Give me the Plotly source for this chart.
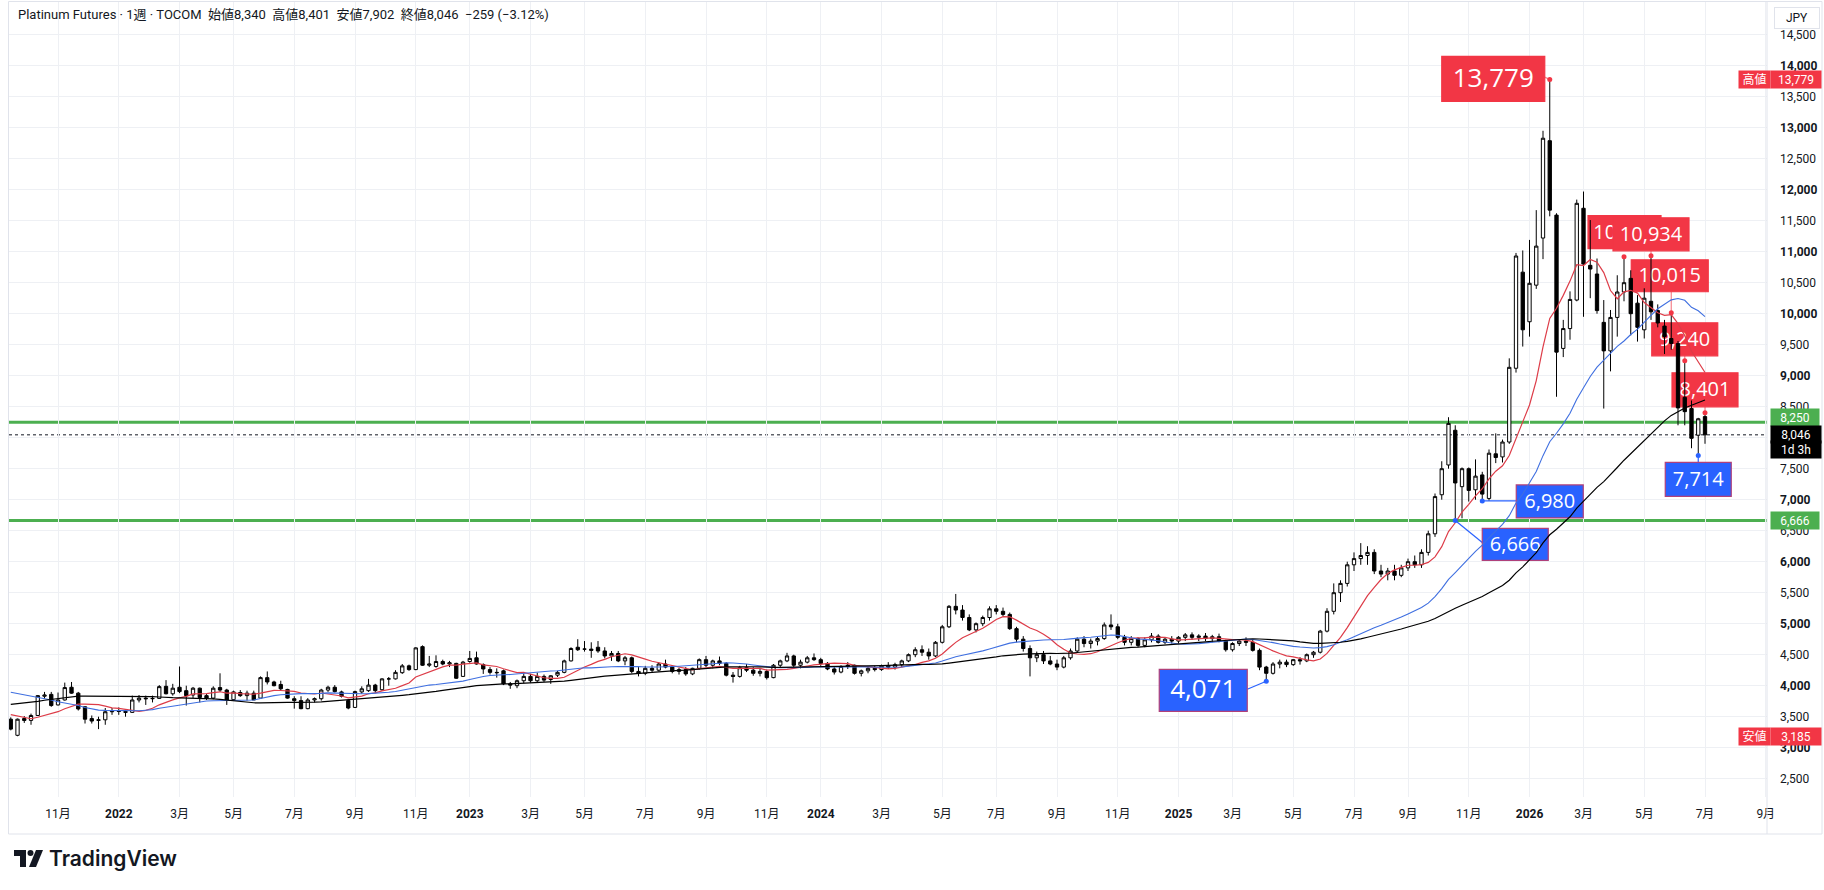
import pandas as pd
import plotly.graph_objects as go

# ---------------- data ----------------
FIRST_WEEK = "2021-09-13"

opens = [
    3460, 3200, 3470, 3440, 3520, 3830, 3860, 3690, 3770, 3975,
    3880, 3660, 3470, 3440, 3450, 3580, 3590, 3585, 3570, 3770,
    3800, 3790, 3795, 3990, 3870, 3975, 3920, 3850, 3960, 3840,
    3800, 3970, 3930, 3775, 3890, 3840, 3880, 3800, 4130, 4060,
    4020, 3940, 3790, 3760, 3630, 3770, 3790, 3930, 3975, 3900,
    3760, 3650, 3900, 3920, 4010, 3935, 4110, 4110, 4210, 4320,
    4260, 4630, 4330, 4310, 4390, 4350, 4360, 4150, 4390, 4450,
    4340, 4260, 4215, 4240, 4030, 4000, 4080, 4150, 4080, 4150,
    4100, 4170, 4215, 4400, 4620, 4590, 4590, 4620, 4560, 4480,
    4520, 4400, 4450, 4230, 4200, 4280, 4250, 4350, 4300, 4230,
    4260, 4190, 4280, 4420, 4330, 4400, 4360, 4170, 4150, 4290,
    4250, 4200, 4230, 4130, 4330, 4400, 4480, 4330, 4380, 4450,
    4420, 4360, 4270, 4220, 4310, 4330, 4200, 4240, 4280, 4260,
    4320, 4300, 4340, 4400, 4500, 4580, 4540, 4480, 4700, 4950,
    5280, 5220, 5100, 4900, 5000, 5100, 5240, 5200, 5150, 4920,
    4750, 4600, 4450, 4500, 4400, 4350, 4300, 4450, 4560, 4750,
    4680, 4720, 4760, 4980, 4950, 4780, 4700, 4760, 4650, 4740,
    4800, 4700, 4750, 4720, 4780, 4820, 4780, 4800, 4760, 4790,
    4720, 4580, 4680, 4720, 4700, 4570, 4300, 4200, 4350, 4380,
    4340, 4420, 4400, 4500, 4540, 4880, 5200, 5500, 5650, 5950,
    6050, 6100, 6150, 5850, 5800, 5850, 5780, 5900, 6000, 5950,
    6150, 6450, 7080, 7560, 8120, 7210, 7500, 7160, 7400, 7020,
    7740, 7690, 7930, 9120, 10670, 9870, 10460, 11220, 12790, 11590,
    9440, 9760, 10220, 11700, 10780, 10640, 9860, 9400, 9940, 10350,
    10570, 10170, 9740, 10200, 10050, 9800, 9600, 9520, 8650, 8470,
    8040, 8340,
]
highs = [
    3490, 3470, 3510, 3550, 3850, 3900, 3900, 3890, 4050, 4060,
    3900, 3670, 3520, 3500, 3640, 3640, 3650, 3620, 3840, 3850,
    3840, 3840, 4010, 4090, 4030, 4310, 4000, 3980, 3970, 3870,
    3990, 4200, 3950, 3920, 3930, 3920, 3920, 4150, 4230, 4080,
    4080, 3950, 3830, 3830, 3800, 3810, 3950, 4000, 4010, 3920,
    3780, 3920, 3990, 4110, 4030, 4120, 4140, 4250, 4350, 4340,
    4620, 4650, 4480, 4490, 4420, 4400, 4370, 4400, 4560, 4550,
    4360, 4300, 4280, 4260, 4060, 4100, 4200, 4190, 4210, 4180,
    4170, 4240, 4420, 4620, 4750, 4720, 4700, 4720, 4620, 4560,
    4560, 4480, 4470, 4300, 4320, 4330, 4380, 4420, 4320, 4290,
    4300, 4290, 4440, 4480, 4420, 4470, 4380, 4220, 4320, 4350,
    4300, 4280, 4260, 4350, 4420, 4530, 4500, 4420, 4480, 4520,
    4450, 4380, 4300, 4330, 4380, 4340, 4260, 4310, 4320, 4340,
    4380, 4370, 4420, 4520, 4620, 4650, 4600, 4720, 4980, 5300,
    5480, 5300, 5150, 5020, 5130, 5280, 5300, 5260, 5180, 4950,
    4800, 4650, 4550, 4560, 4480, 4420, 4480, 4600, 4780, 4800,
    4760, 4800, 5020, 5150, 5000, 4820, 4800, 4780, 4780, 4850,
    4830, 4780, 4800, 4800, 4850, 4860, 4830, 4850, 4820, 4840,
    4740, 4700, 4750, 4780, 4750, 4600, 4320, 4380, 4420, 4420,
    4430, 4460, 4520, 4560, 4900, 5250, 5650, 5700, 6000, 6150,
    6300, 6250, 6200, 5950, 5900, 5950, 5950, 6050, 6100, 6200,
    6500, 7100, 7620, 8330, 8200, 7520, 7520, 7650, 7450, 7810,
    8070, 7970, 9280, 10980, 11020, 11190, 11670, 12950, 13779, 11620,
    9900, 10360, 11840, 11970, 11510, 10890, 10220, 10060, 10620, 10920,
    10700, 10300, 10410, 10934, 10150, 9900, 10015, 9560, 9240, 8600,
    8320, 8401,
]
lows = [
    3280, 3185, 3400, 3370, 3510, 3790, 3660, 3680, 3760, 3870,
    3600, 3390, 3390, 3300, 3370, 3530, 3530, 3500, 3560, 3730,
    3690, 3730, 3790, 3860, 3840, 3880, 3680, 3800, 3730, 3770,
    3780, 3900, 3690, 3760, 3820, 3760, 3770, 3790, 4020, 3990,
    3930, 3790, 3630, 3620, 3620, 3730, 3760, 3900, 3890, 3810,
    3620, 3640, 3870, 3900, 3880, 3920, 4000, 4100, 4190, 4240,
    4250, 4320, 4300, 4290, 4330, 4300, 4110, 4140, 4370, 4340,
    4190, 4180, 4130, 4010, 3950, 3960, 4040, 4050, 4060, 4060,
    4030, 4140, 4200, 4390, 4560, 4550, 4450, 4530, 4440, 4400,
    4380, 4330, 4200, 4150, 4170, 4220, 4230, 4280, 4200, 4180,
    4160, 4170, 4260, 4300, 4280, 4330, 4150, 4050, 4130, 4220,
    4160, 4150, 4100, 4120, 4300, 4380, 4300, 4280, 4360, 4400,
    4320, 4250, 4180, 4200, 4270, 4180, 4150, 4200, 4230, 4240,
    4270, 4260, 4300, 4380, 4460, 4480, 4420, 4460, 4680, 4930,
    5150, 5050, 4880, 4860, 4960, 5050, 5150, 5120, 4900, 4700,
    4550, 4150, 4380, 4350, 4330, 4250, 4280, 4420, 4540, 4620,
    4600, 4650, 4740, 4900, 4750, 4650, 4650, 4620, 4620, 4700,
    4680, 4670, 4680, 4680, 4720, 4740, 4720, 4720, 4700, 4700,
    4550, 4550, 4640, 4640, 4550, 4250, 4071, 4180, 4280, 4300,
    4320, 4340, 4380, 4450, 4520, 4860, 5150, 5350, 5600, 5850,
    5950, 5950, 5800, 5750, 5700, 5700, 5750, 5850, 5900, 5900,
    6100, 6400, 7000, 7500, 6666, 6700, 6970, 7000, 6980, 6990,
    7590, 7600, 7900, 9050, 9470, 9630, 10400, 10880, 11570, 8660,
    9300, 9580, 10200, 9950, 10250, 10000, 8470, 9070, 9630, 10200,
    9650, 9550, 9600, 9900, 9780, 9350, 9420, 8200, 8200, 7830,
    7714, 7902,
]
closes = [
    3300, 3460, 3440, 3520, 3840, 3850, 3680, 3770, 3970, 3880,
    3625, 3460, 3430, 3450, 3580, 3590, 3585, 3570, 3770, 3800,
    3790, 3795, 3985, 3870, 3960, 3905, 3840, 3960, 3810, 3800,
    3960, 3930, 3770, 3900, 3840, 3880, 3770, 4130, 4060, 4000,
    3950, 3800, 3760, 3630, 3770, 3790, 3930, 3975, 3905, 3830,
    3640, 3905, 3950, 4010, 3920, 4110, 4110, 4215, 4320, 4260,
    4610, 4330, 4350, 4390, 4350, 4370, 4120, 4380, 4440, 4350,
    4270, 4215, 4210, 4030, 4010, 4080, 4150, 4080, 4150, 4090,
    4160, 4215, 4400, 4600, 4580, 4590, 4570, 4560, 4480, 4520,
    4400, 4450, 4230, 4200, 4280, 4250, 4350, 4300, 4230, 4260,
    4190, 4280, 4420, 4330, 4400, 4360, 4170, 4150, 4290, 4250,
    4200, 4230, 4130, 4330, 4400, 4480, 4330, 4380, 4450, 4420,
    4360, 4270, 4220, 4310, 4330, 4200, 4240, 4280, 4260, 4320,
    4300, 4340, 4400, 4500, 4580, 4540, 4480, 4700, 4950, 5280,
    5220, 5100, 4900, 5000, 5100, 5240, 5200, 5150, 4920, 4750,
    4600, 4450, 4500, 4400, 4350, 4300, 4450, 4560, 4750, 4680,
    4720, 4760, 4980, 4950, 4780, 4700, 4760, 4650, 4740, 4800,
    4700, 4750, 4720, 4780, 4820, 4780, 4800, 4760, 4790, 4720,
    4580, 4680, 4720, 4700, 4570, 4300, 4200, 4350, 4380, 4340,
    4420, 4400, 4500, 4540, 4880, 5200, 5500, 5650, 5950, 6050,
    6100, 6150, 5850, 5800, 5850, 5780, 5900, 6000, 5950, 6150,
    6450, 7050, 7500, 8230, 7270, 7500, 7150, 7380, 7090, 7750,
    7680, 7930, 9135, 10930, 9740, 10490, 11090, 12830, 11670, 9380,
    9760, 10230, 11780, 10800, 10720, 10050, 9400, 9940, 10350, 10500,
    10000, 9780, 10250, 10030, 9850, 9630, 9520, 8480, 8420, 7990,
    8305, 8046,
]
# weekly closes before the visible window (Sep 2020 - Sep 2021), used only to seed the averages
prehistory_closes = [
    2950, 2880, 2920, 2980, 2950, 2900, 2870, 3050, 3150, 3200,
    3250, 3350, 3450, 3500, 3450, 3500, 3650, 3800, 3700, 3720,
    3900, 4100, 4350, 4450, 4000, 4050, 3950, 3950, 4000, 4050,
    4200, 4350, 4450, 4550, 4400, 4300, 4350, 4250, 4100, 3900,
    3700, 3650, 3700, 3700, 3750, 3650, 3600, 3550, 3400, 3450,
    3500, 3450,
]
ma_periods = [10, 26, 52]
levels = [8250, 6666]
high_label_bars = [228, 239, 243, 246, 248, 251]
low_label_bars = [186, 218, 214, 250]
symbol = "Platinum Futures"
interval = "1週"
exchange = "TOCOM"
time_left = "1d 3h"
currency = "JPY"

# ---------------- geometry ----------------
W, H = 1824, 890
PL, PR, PT, PB = 9, 1767, 2, 797
XR = [pd.Timestamp("2021-09-11 04:00"), pd.Timestamp("2026-09-08 07:00")]
YR = [2205, 15027]
X_PER_PX = (XR[1] - XR[0]) / (PR - PL)
Y_PER_PX = (YR[1] - YR[0]) / (PB - PT)


def px2x(px):
    return (px - PL) / (PR - PL)


def py2y(py):
    return (PB - py) / (PB - PT)


RED = "#F23645"
BLUE = "#2962FF"
GREEN = "#4CAF50"
TXT = "#131722"
FONT = "Roboto, 'Noto Sans CJK JP', sans-serif"
LFONT = "'Open Sans', Roboto, sans-serif"

dates = pd.date_range(FIRST_WEEK, periods=len(closes), freq="7D")
allc = pd.Series(prehistory_closes + closes, dtype=float)
mas = [allc.rolling(p).mean().iloc[len(prehistory_closes):].to_numpy() for p in ma_periods]

fig = go.Figure()
fig.add_trace(go.Candlestick(
    x=dates, open=opens, high=highs, low=lows, close=closes,
    increasing=dict(line=dict(color="#000000", width=1), fillcolor="#ffffff"),
    decreasing=dict(line=dict(color="#000000", width=1), fillcolor="#000000"),
    whiskerwidth=0, showlegend=False, hoverinfo="skip",
))
for ma, col, wd in zip(mas, ["#DD3C48", "#3F6FE0", "#000000"], [1.2, 1.1, 1.2]):
    fig.add_trace(go.Scatter(x=dates, y=ma, mode="lines", line=dict(color=col, width=wd),
                             showlegend=False, hoverinfo="skip"))

fig.add_trace(go.Scatter(x=[dates[i] for i in high_label_bars], y=[highs[i] for i in high_label_bars],
                         mode="markers", marker=dict(color=RED, size=5), showlegend=False, hoverinfo="skip"))
fig.add_trace(go.Scatter(x=[dates[i] for i in low_label_bars], y=[lows[i] for i in low_label_bars],
                         mode="markers", marker=dict(color=BLUE, size=5), showlegend=False, hoverinfo="skip"))

shapes = []
annotations = []

# level lines and last price line
for lv in levels:
    shapes.append(dict(type="line", xref="paper", x0=0, x1=1, yref="y", y0=lv, y1=lv,
                       line=dict(color=GREEN, width=3), layer="between"))
shapes.append(dict(type="line", xref="paper", x0=0, x1=1, yref="y", y0=closes[-1], y1=closes[-1],
                   line=dict(color="#131722", width=1, dash="dot"), layer="between"))

# pivot labels: box offsets in px relative to the pivot point (dx0, dx1, dy0, dy1; y up), font size, connector end
label_geom = {
    228: (-108, -5, 23, -22, 26, (-7, 3)),
    239: (-36, 37, 41, 8, 20, None),
    243: (-38, 38, 38, 5, 20, (0, 5)),
    246: (-40, 37, 53, 21, 20, (0, 21)),
    248: (-33, 33, 38, 5, 20, (0, 5)),
    251: (-33, 33, 40, 6, 20, (0, 6)),
    186: (-107, -19, 12, -30, 26, (-19, -8)),
    218: (34, 101, 16, -17, 20, (34, 0)),
    214: (27, 93, -8, -40, 20, (27, -22)),
    250: (-33, 33, -7, -41, 20, (0, -7)),
}


def off_x(d, dx):
    return d + dx * X_PER_PX


def off_y(v, dy):
    return v + dy * Y_PER_PX


for kind, bars, vals, col in [("high", high_label_bars, highs, RED), ("low", low_label_bars, lows, BLUE)]:
    for b in bars:
        dx0, dx1, dy0, dy1, fs, conn = label_geom[b]
        d, v = dates[b], vals[b]
        if conn is not None:
            shapes.append(dict(type="line", xref="x", yref="y", x0=d, y0=v,
                               x1=off_x(d, conn[0]), y1=off_y(v, conn[1]),
                               line=dict(color="#f5838c" if kind == "high" else BLUE, width=1.2),
                               layer="between"))
        shapes.append(dict(type="rect", xref="x", yref="y",
                           x0=off_x(d, dx0), x1=off_x(d, dx1), y0=off_y(v, dy1), y1=off_y(v, dy0),
                           fillcolor=col,
                           line=dict(color=col if kind == "high" else "#b0407a", width=1.2),
                           layer="between",
                           label=dict(text=f"{v:,}", textposition="middle center",
                                      font=dict(color="white", size=fs, family=LFONT))))

# frame
shapes.append(dict(type="rect", xref="paper", yref="paper", x0=px2x(8.5), x1=px2x(1822),
                   y0=py2y(834), y1=py2y(1.5), line=dict(color="#e0e3eb", width=1), layer="above"))
shapes.append(dict(type="line", xref="paper", yref="paper", x0=px2x(PR), x1=px2x(PR),
                   y0=py2y(834), y1=py2y(1.5), line=dict(color="#e0e3eb", width=1), layer="above"))

# TradingView logo icon
shapes.append(dict(type="path", xref="paper", yref="paper", fillcolor="#131722", line=dict(width=0),
                   path=f"M {px2x(14)},{py2y(850)} L {px2x(26)},{py2y(850)} L {px2x(26)},{py2y(867)} "
                        f"L {px2x(20)},{py2y(867)} L {px2x(20)},{py2y(856)} L {px2x(14)},{py2y(856)} Z"))
shapes.append(dict(type="circle", xref="paper", yref="paper", fillcolor="#131722", line=dict(width=0),
                   x0=px2x(27.5), x1=px2x(33.5), y0=py2y(856), y1=py2y(850)))
shapes.append(dict(type="path", xref="paper", yref="paper", fillcolor="#131722", line=dict(width=0),
                   path=f"M {px2x(36)},{py2y(850)} L {px2x(43)},{py2y(850)} L {px2x(36)},{py2y(867)} "
                        f"L {px2x(29)},{py2y(867)} Z"))
annotations.append(dict(xref="paper", yref="paper", x=px2x(47), y=py2y(858), xanchor="left", yanchor="middle",
                        text="TradingView", showarrow=False,
                        font=dict(family="Inter, Roboto, sans-serif", size=21, color="#131722", weight=600)))

# header
o, h, l, c = opens[-1], highs[-1], lows[-1], closes[-1]
chg = c - closes[-2]
pct = chg / closes[-2] * 100
sp = "\u00a0\u00a0"
sign = "\u2212" if chg < 0 else "+"
header = (f"{symbol} · {interval} · {exchange}{sp}始値{o:,}{sp}高値{h:,}{sp}安値{l:,}{sp}終値{c:,}"
          f"{sp}{sign}{abs(chg)} ({sign}{abs(pct):.2f}%)")
annotations.append(dict(xref="paper", yref="paper", x=px2x(16), y=py2y(15), xanchor="left", yanchor="middle",
                        text=header, showarrow=False, font=dict(family=FONT, size=13, color=TXT)))


# price axis badges
def badge(xc, wpx, y, text, bg, yshift=0, fc="white"):
    annotations.append(dict(xref="paper", yref="y", x=px2x(xc), y=y, xanchor="center", yanchor="middle",
                            text=text, showarrow=False, bgcolor=bg,
                            width=wpx, height=14, borderpad=1.5, yshift=yshift,
                            font=dict(family=FONT, size=12, color=fc)))


hi_all, lo_all = max(highs), min(lows)
badge(1754, 28, hi_all, "高値", RED)
badge(1796, 47, hi_all, f"{hi_all:,}", RED)
badge(1754, 28, lo_all, "安値", RED)
badge(1796, 47, lo_all, f"{lo_all:,}", RED)
badge(1795, 45, levels[0], f"{levels[0]:,}", GREEN, yshift=5)
badge(1795, 45, levels[1], f"{levels[1]:,}", GREEN)
badge(1796, 47, closes[-1], f"{closes[-1]:,}", "#000000")
badge(1796, 47, closes[-1], time_left, "#000000", yshift=-15)
annotations.append(dict(xref="paper", yref="paper", x=px2x(1797.5), y=py2y(18), xanchor="center",
                        yanchor="middle", text=currency, showarrow=False, bgcolor="white",
                        bordercolor="#e0e3eb", borderwidth=1, borderpad=3, width=38, height=14,
                        font=dict(family=FONT, size=12, color=TXT)))

# ---------------- axes ----------------
axis_weeks = pd.date_range(pd.Timestamp(FIRST_WEEK) - pd.Timedelta(days=7), "2026-09-30", freq="7D")
tickvals, ticktext = [], []
for prev, cur in zip(axis_weeks[:-1], axis_weeks[1:]):
    if cur.month != prev.month and cur.month in (1, 3, 5, 7, 9, 11):
        tickvals.append(cur)
        ticktext.append(f"<b>{cur.year}</b>" if cur.month == 1 else f"{cur.month}月")

yvals = list(range(2500, 15000, 500))
ytext = [f"<b>{v:,}</b>" if v % 1000 == 0 else f"{v:,}" for v in yvals]

fig.update_layout(
    width=W, height=H,
    margin=dict(l=PL, r=W - PR, t=PT, b=H - PB),
    paper_bgcolor="white", plot_bgcolor="white",
    showlegend=False,
    shapes=shapes, annotations=annotations,
    xaxis=dict(type="date", range=[str(XR[0]), str(XR[1])],
               rangeslider=dict(visible=False),
               tickmode="array", tickvals=tickvals, ticktext=ticktext,
               showgrid=True, gridcolor="#eef0f4", gridwidth=1, ticks="", ticklabelstandoff=8,
               tickfont=dict(family=FONT, size=12, color=TXT), showline=False, zeroline=False),
    yaxis=dict(side="right", range=YR, tickmode="array", tickvals=yvals, ticktext=ytext,
               showgrid=True, gridcolor="#eef0f4", gridwidth=1, ticks="", ticklabelstandoff=12,
               tickfont=dict(family=FONT, size=12, color=TXT), showline=False, zeroline=False),
)

fig.write_html("out.html")
